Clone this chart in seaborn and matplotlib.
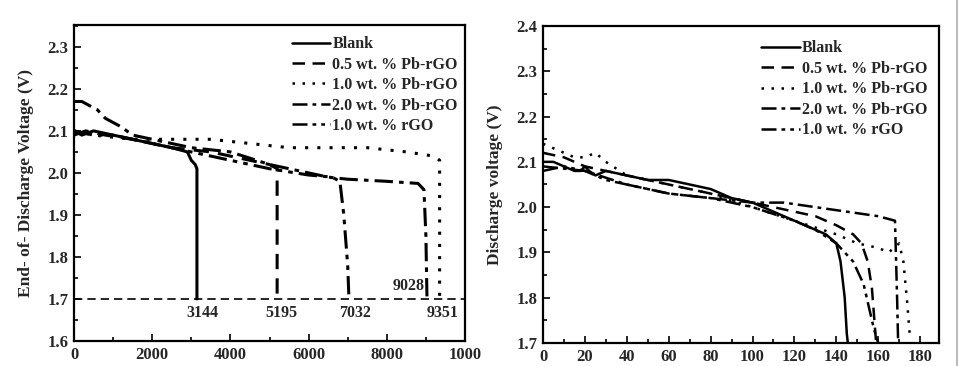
import matplotlib
matplotlib.use("Agg")
import matplotlib.pyplot as plt
import seaborn as sns
import pandas as pd
from matplotlib.ticker import MultipleLocator, FixedLocator
from matplotlib.lines import Line2D

sns.set_theme(style="white")
plt.rcParams['font.family'] = ['Liberation Serif', 'DejaVu Serif']
plt.rcParams['font.weight'] = 'bold'

labels = ["Blank", "0.5 wt. % Pb-rGO", "1.0 wt. % Pb-rGO", "2.0 wt. % Pb-rGO", "1.0 wt. % rGO"]

# ---- Left panel: end-of-discharge voltage vs cycles ----
left_blank_x = [0, 200, 500, 1000, 1500, 2000, 2500, 2900, 3000, 3100, 3144, 3144]
left_blank_y = [2.10, 2.09, 2.10, 2.09, 2.08, 2.07, 2.06, 2.05, 2.03, 2.02, 2.01, 1.70]
left_05_x = [0, 300, 800, 1500, 2500, 3500, 4500, 5000, 5195, 5195]
left_05_y = [2.09, 2.10, 2.09, 2.08, 2.06, 2.05, 2.03, 2.02, 2.01, 1.70]
left_10_x = [0, 500, 1500, 2500, 3500, 4500, 5500, 6500, 7500, 8500, 9200, 9351, 9351]
left_10_y = [2.10, 2.09, 2.08, 2.08, 2.08, 2.07, 2.06, 2.06, 2.06, 2.05, 2.04, 2.03, 1.70]
left_20_x = [0, 200, 400, 600, 700, 800, 1000, 1200, 1500, 2000, 3000, 4000, 5000, 6000, 6500, 7000, 8000, 8800, 8950, 9000, 9028]
left_20_y = [2.17, 2.17, 2.16, 2.15, 2.14, 2.13, 2.12, 2.11, 2.09, 2.08, 2.06, 2.05, 2.02, 2.00, 1.99, 1.985, 1.98, 1.975, 1.96, 1.85, 1.70]
left_rgo_x = [0, 500, 1000, 2000, 3000, 4000, 5000, 6000, 6600, 6800, 6900, 7000, 7032]
left_rgo_y = [2.10, 2.09, 2.09, 2.07, 2.05, 2.03, 2.01, 1.995, 1.99, 1.98, 1.90, 1.78, 1.70]
cutoff_voltage = 1.70
end_cycles = [3144, 5195, 7032, 9351]
end_cycle_9028 = 9028
left_xticks = [0, 2000, 4000, 6000, 8000, 10000]
left_xticklabels = ["0", "2000", "4000", "6000", "8000", "1000"]
left_yticks = [1.6, 1.7, 1.8, 1.9, 2.0, 2.1, 2.2, 2.3]

# ---- Right panel: discharge voltage vs time ----
right_blank_x = [0, 5, 10, 15, 18, 20, 22, 25, 30, 40, 50, 60, 70, 80, 90, 100, 110, 120, 130, 135, 140, 142, 144, 145, 145.5]
right_blank_y = [2.10, 2.10, 2.09, 2.08, 2.08, 2.09, 2.08, 2.07, 2.08, 2.07, 2.06, 2.06, 2.05, 2.04, 2.02, 2.01, 1.99, 1.97, 1.95, 1.94, 1.92, 1.88, 1.80, 1.72, 1.70]
right_05_x = [0, 10, 20, 30, 40, 60, 80, 100, 120, 130, 140, 148, 152, 155, 157, 158, 159]
right_05_y = [2.12, 2.11, 2.09, 2.08, 2.07, 2.05, 2.03, 2.01, 1.99, 1.98, 1.96, 1.94, 1.92, 1.88, 1.82, 1.76, 1.70]
right_10_x = [0, 5, 10, 15, 20, 25, 30, 40, 60, 80, 100, 120, 140, 150, 160, 165, 170, 172, 174, 175]
right_10_y = [2.14, 2.13, 2.12, 2.11, 2.11, 2.12, 2.10, 2.07, 2.05, 2.03, 2.00, 1.97, 1.94, 1.92, 1.91, 1.90, 1.92, 1.88, 1.78, 1.72]
right_20_x = [0, 20, 40, 60, 80, 100, 115, 130, 145, 160, 168, 169, 169.5]
right_20_y = [2.09, 2.08, 2.05, 2.03, 2.02, 2.01, 2.01, 2.00, 1.99, 1.98, 1.97, 1.80, 1.70]
right_rgo_x = [0, 10, 20, 30, 40, 60, 80, 100, 120, 130, 140, 148, 153, 156, 158, 160]
right_rgo_y = [2.08, 2.09, 2.08, 2.06, 2.05, 2.03, 2.02, 2.00, 1.97, 1.95, 1.92, 1.88, 1.83, 1.77, 1.73, 1.70]
right_xticks = [0, 20, 40, 60, 80, 100, 120, 140, 160, 180]
right_yticks = [1.7, 1.8, 1.9, 2.0, 2.1, 2.2, 2.3, 2.4]

styles = ['-', (0, (5, 3)), (0, (1, 3)), (0, (6, 2, 1.5, 2)), (0, (6, 2, 1.5, 2, 1.5, 2))]

fig = plt.figure(figsize=(9.63, 3.66), dpi=100)
W, H = 963, 366
axL = fig.add_axes([74 / W, (H - 341) / H, (465 - 74) / W, (341 - 25) / H])
axR = fig.add_axes([543 / W, (H - 343) / H, (939 - 543) / W, (343 - 26) / H])

left_series = [(left_blank_x, left_blank_y), (left_05_x, left_05_y), (left_10_x, left_10_y),
               (left_20_x, left_20_y), (left_rgo_x, left_rgo_y)]
right_series = [(right_blank_x, right_blank_y), (right_05_x, right_05_y), (right_10_x, right_10_y),
                (right_20_x, right_20_y), (right_rgo_x, right_rgo_y)]

for ax, series, lw in [(axL, left_series, 2.2), (axR, right_series, 1.8)]:
    for (xs, ys), lab, ls in zip(series, labels, styles):
        df = pd.DataFrame({"x": xs, "y": ys})
        sns.lineplot(data=df, x="x", y="y", ax=ax, color='black', linestyle=ls,
                     linewidth=lw, sort=False, estimator=None, label=lab)

FS = 12
# cutoff line
axL.axhline(cutoff_voltage, color='black', linestyle=(0, (5, 3)), linewidth=1.2)
ann_offsets = [130, 110, 150, 65]
for c, dx in zip(end_cycles, ann_offsets):
    axL.text(c + dx, 1.666, str(c), ha='center', va='center', fontsize=11.5, fontweight='bold')
axL.text(end_cycle_9028 - 60, 1.730, str(end_cycle_9028), ha='right', va='center',
         fontsize=11.5, fontweight='bold')

axL.set_xlim(0, 10000)
axL.set_ylim(1.6, 2.352)
axL.xaxis.set_major_locator(FixedLocator(left_xticks))
axL.set_xticklabels(left_xticklabels)
axL.xaxis.set_minor_locator(MultipleLocator(1000))
axL.yaxis.set_major_locator(FixedLocator(left_yticks))
axL.yaxis.set_minor_locator(MultipleLocator(0.05))
axL.set_ylabel("End- of- Discharge Voltage (V)", fontsize=12.5, fontweight='bold', labelpad=10)
axL.set_xlabel("")

axR.set_xlim(0, 189)
axR.set_ylim(1.7, 2.4)
axR.xaxis.set_major_locator(FixedLocator(right_xticks))
axR.xaxis.set_minor_locator(MultipleLocator(10))
axR.yaxis.set_major_locator(FixedLocator(right_yticks))
axR.yaxis.set_minor_locator(MultipleLocator(0.05))
axR.set_ylabel("Discharge voltage (V)", fontsize=12.5, fontweight='bold', labelpad=10)
axR.set_xlabel("")

for ax in (axL, axR):
    ax.yaxis.set_major_formatter(matplotlib.ticker.FormatStrFormatter('%.1f'))
    for s in ax.spines.values():
        s.set_linewidth(1.6)
        s.set_color('black')
    ax.tick_params(which='both', direction='in', bottom=True, left=True, top=False, right=False,
                   color='black', width=1.2, labelsize=FS)
    ax.tick_params(which='major', length=5, pad=4)
    ax.tick_params(which='minor', length=3)
    for t in ax.get_xticklabels() + ax.get_yticklabels():
        t.set_fontweight('bold')
    ax.grid(False)

legL = axL.legend(loc='upper left', bbox_to_anchor=(0.54, 0.985), frameon=False,
                  prop={'weight': 'bold', 'size': 11.5}, handlelength=2.4, handletextpad=0.15,
                  labelspacing=0.28, borderaxespad=0)
legR = axR.legend(loc='upper left', bbox_to_anchor=(0.535, 0.975), frameon=False,
                  prop={'weight': 'bold', 'size': 11.5}, handlelength=2.4, handletextpad=0.15,
                  labelspacing=0.28, borderaxespad=0)
for leg in (legL, legR):
    for h in leg.get_lines():
        h.set_linewidth(1.8)

fig.add_artist(Line2D([957 / W, 957 / W], [0, 1], color='#bbbbbb', linewidth=1.5))

fig.savefig("out.png", dpi=100, facecolor='white')
